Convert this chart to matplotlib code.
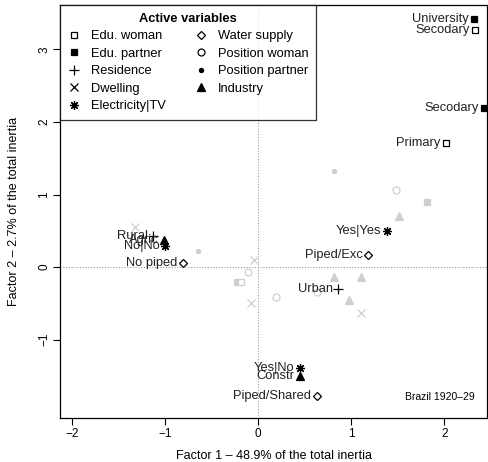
import matplotlib
matplotlib.use("Agg")
import matplotlib.pyplot as plt
from matplotlib.lines import Line2D

plt.rcParams["font.family"] = ["Liberation Sans", "DejaVu Sans"]

# active categories (black, labelled)
act_labels = ["University", "Secodary", "Secodary", "Primary", "Yes|Yes", "Piped/Exc",
              "Urban", "Rural", "Agric", "No|No", "No piped", "Yes|No", "Constr",
              "Piped/Shared"]
act_x = [2.32, 2.33, 2.43, 2.02, 1.38, 1.18, 0.86, -1.13, -1.01, -1.00, -0.81, 0.45, 0.45, 0.63]
act_y = [3.42, 3.27, 2.19, 1.71, 0.50, 0.17, -0.30, 0.43, 0.37, 0.29, 0.06, -1.39, -1.50, -1.78]
act_var = ["edu_p", "edu_w", "edu_p", "edu_w", "elec", "water", "res", "res", "ind", "elec",
           "water", "elec", "ind", "water"]

# remaining categories (light grey, unlabelled)
sup_x = [-1.32, -0.65, -0.04, -0.11, -0.23, -0.18, 0.81, 0.19, -0.08, 0.82, 1.10, 0.98,
         1.48, 1.82, 1.51, 1.11, 0.63]
sup_y = [0.55, 0.22, 0.10, -0.07, -0.21, -0.21, 1.32, -0.41, -0.50, -0.14, -0.14, -0.45,
         1.06, 0.90, 0.70, -0.63, -0.34]
sup_var = ["dwell", "pos_p", "dwell", "pos_w", "edu_p", "edu_w", "pos_p", "pos_w", "dwell",
           "ind", "ind", "ind", "pos_w", "edu_p", "ind", "dwell", "pos_w"]

legend_vars = ["edu_w", "edu_p", "res", "dwell", "elec", "water", "pos_w", "pos_p", "ind"]
legend_names = ["Edu. woman", "Edu. partner", "Residence", "Dwelling", "Electricity|TV",
                "Water supply", "Position woman", "Position partner", "Industry"]

# marker style per variable (R pch look-alikes)
styles = {
    "edu_w": dict(marker="s", ms=4.5, fill=False, mew=0.9),
    "edu_p": dict(marker="s", ms=4.5, fill=True, mew=0.9),
    "res": dict(marker="+", ms=7.5, fill=True, mew=0.9),
    "dwell": dict(marker="x", ms=5.5, fill=True, mew=0.9),
    "elec": dict(marker=(8, 2, 0), ms=6.5, fill=True, mew=0.9),
    "water": dict(marker="D", ms=4.5, fill=False, mew=0.9),
    "pos_w": dict(marker="o", ms=5, fill=False, mew=0.9),
    "pos_p": dict(marker="o", ms=3, fill=True, mew=0.9),
    "ind": dict(marker="^", ms=5.5, fill=True, mew=0.9),
}


def draw(ax, x, y, var, color):
    s = styles[var]
    ax.plot([x], [y], linestyle="none", marker=s["marker"], markersize=s["ms"],
            markeredgewidth=s["mew"], markeredgecolor=color,
            markerfacecolor=color if s["fill"] else "white", zorder=3, clip_on=False)


fig = plt.figure(figsize=(4.88, 4.62), dpi=100)
ax = fig.add_axes([0.123, 0.095, 0.875, 0.894])
ax.set_xlim(-2.13, 2.46)
ax.set_ylim(-2.08, 3.61)

ax.axhline(0, color="#a0a0a0", linestyle=(0, (1, 1.5)), linewidth=0.8, zorder=1)
ax.axvline(0, color="#a0a0a0", linestyle=(0, (1, 1.5)), linewidth=0.8, zorder=1)

for x, y, v in zip(sup_x, sup_y, sup_var):
    draw(ax, x, y, v, "#cfcfcf")

for lab, x, y, v in zip(act_labels, act_x, act_y, act_var):
    draw(ax, x, y, v, "black")
    ax.annotate(lab, (x, y), xytext=(-4, 0), textcoords="offset points",
                ha="right", va="center", fontsize=9.3, color="#222222", zorder=4)

ax.text(2.33, -1.79, "Brazil 1920\u201329", ha="right", va="center", fontsize=7.5)

handles = []
for v in legend_vars:
    s = styles[v]
    handles.append(Line2D([], [], linestyle="none", marker=s["marker"], markersize=s["ms"],
                          markeredgewidth=s["mew"], markeredgecolor="black",
                          markerfacecolor="black" if s["fill"] else "white"))
leg = ax.legend(handles, legend_names, ncol=2, loc="upper left", bbox_to_anchor=(0, 1),
                title="Active variables", fontsize=9.3, frameon=True, fancybox=False,
                borderaxespad=0, handlelength=1.0, handletextpad=0.8, columnspacing=2.2,
                labelspacing=0.42, borderpad=0.6)
leg.get_title().set_fontweight("bold")
leg.get_title().set_fontsize(9.3)
leg.get_frame().set_edgecolor("black")
leg.get_frame().set_linewidth(0.9)

ax.set_xticks([-2, -1, 0, 1, 2])
ax.set_xticklabels(["\u22122", "\u22121", "0", "1", "2"])
ax.set_yticks([-1, 0, 1, 2, 3])
ax.set_yticklabels(["\u22121", "0", "1", "2", "3"], rotation=90, va="center")
ax.tick_params(direction="out", length=5, labelsize=8.5, pad=2)
for sp in ax.spines.values():
    sp.set_linewidth(0.9)

ax.set_xlabel("Factor 1 \u2013 48.9% of the total inertia", fontsize=9)
ax.set_ylabel("Factor 2 \u2013 2.7% of the total inertia", fontsize=9)
ax.xaxis.set_label_coords(0.5, -0.076)
ax.yaxis.set_label_coords(-0.094, 0.5)

fig.savefig("out.png", dpi=100)
